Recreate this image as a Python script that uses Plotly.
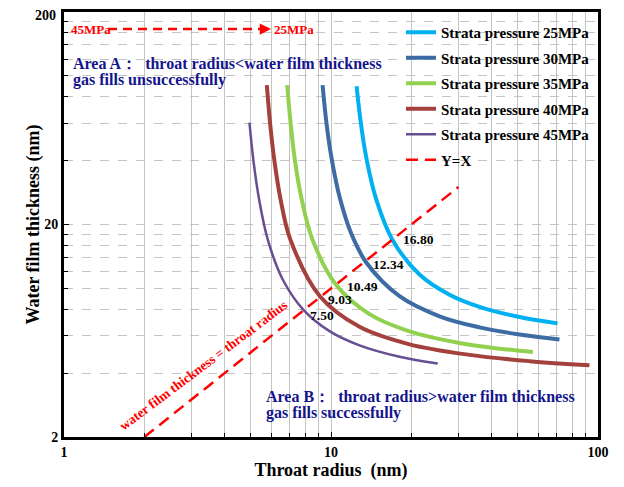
import math
import plotly.graph_objects as go

# ---------------- data ----------------
series_names = ["Strata pressure 25MPa", "Strata pressure 30MPa", "Strata pressure 35MPa",
                "Strata pressure 40MPa", "Strata pressure 45MPa"]

x_25 = [12.47, 12.94, 13.60, 14.78, 17.00, 21.45, 27.79, 35.99, 50.82, 70.53]
y_25 = [89.5, 59.8, 40.4, 26.2, 16.93, 11.64, 9.35, 8.20, 7.34, 6.85]

x_30 = [9.30, 9.62, 10.07, 10.83, 11.96, 13.60, 18.06, 25.49, 35.99, 50.82, 71.75]
y_30 = [90.5, 59.8, 40.4, 26.2, 17.88, 13.18, 9.20, 7.40, 6.56, 6.07, 5.75]

x_35 = [6.855, 7.06, 7.32, 7.77, 8.53, 10.46, 13.94, 19.68, 30.29, 42.77, 57.0]
y_35 = [90.5, 59.8, 40.4, 26.2, 16.93, 10.38, 7.57, 6.28, 5.54, 5.21, 5.02]

x_40 = [5.75, 5.915, 6.13, 6.475, 7.05, 9.12, 12.79, 19.68, 33.02, 55.4, 92.9]
y_40 = [90.5, 59.8, 40.4, 26.2, 16.93, 9.14, 6.60, 5.46, 4.87, 4.55, 4.35]

x_45 = [4.95, 5.117, 5.38, 5.80, 6.61, 7.90, 9.87, 12.79, 18.06, 25.1]
y_45 = [60.3, 40.4, 26.2, 16.93, 10.96, 7.91, 6.30, 5.40, 4.77, 4.43]

yx_x = [2, 30]
yx_y = [2, 30]

intersections = [16.80, 12.34, 10.49, 9.03, 7.50]
intersection_labels = ["16.80", "12.34", "10.49", "9.03", "7.50"]

x_tickvals = [1, 10, 100]
x_ticktext = ["1", "10", "100"]
x_minor = [2, 3, 4, 5, 6, 7, 8, 9, 20, 30, 40, 50, 60, 70, 80, 90]
y_tickvals = [2, 20, 200]
y_ticktext = ["2", "20", "200"]
y_minor = [4, 6, 8, 10, 12, 14, 16, 18, 40, 60, 80, 100, 120, 140, 160, 180]

# ---------------- styling ----------------
FONT = "Liberation Serif"
colors = ["#00B0F0", "#3D6BA4", "#92D050", "#A5413D", "#674E93"]
widths = [4, 4, 4, 4, 2.5]
NAVY = "#14148C"
RED = "#FF0000"

xs = [x_25, x_30, x_35, x_40, x_45]
ys = [y_25, y_30, y_35, y_40, y_45]

fig = go.Figure()
for i in range(5):
    fig.add_trace(go.Scatter(
        x=xs[i], y=ys[i], mode="lines", name=series_names[i],
        line=dict(color=colors[i], width=widths[i], shape="spline", smoothing=1.0),
        legendgroup=f"g{i}"))

fig.add_trace(go.Scatter(
    x=yx_x, y=yx_y, mode="lines", name="Y=X",
    line=dict(color=RED, width=2.5, dash="12px,7px"), legendgroup="g5"))

# intersection labels
shifts = [(10, 1), (16, 5), (8, -2), (7, -2), (10, 0)]
for v, t, (dx, dy) in zip(intersections, intersection_labels, shifts):
    fig.add_annotation(x=math.log10(v), y=math.log10(v), text=t, showarrow=False,
                       xanchor="left", yanchor="middle", xshift=dx, yshift=dy,
                       font=dict(family=FONT, size=13.5, color="black", weight="bold"))

# page has an 8px body margin: figure is drawn 8px right/down of the window origin
OFF = 8
W, H = 608, 479
# plot area in window pixels: x 64..598, y 12..437
PX0, PX1, PY0, PY1 = 64, 598, 12, 437
L, R, T, B = PX0 - OFF, W - (PX1 - OFF), PY0 - OFF, H - (PY1 - OFF)
pw, ph = PX1 - PX0, PY1 - PY0
def px(xp):
    return (xp - PX0) / pw
def py(yp):
    return (PY1 - yp) / ph

def text_line(xp, yp, s, color, size, anchor="left"):
    fig.add_annotation(xref="paper", yref="paper", x=px(xp), y=py(yp), text=s,
                       showarrow=False, xanchor=anchor, yanchor="middle",
                       font=dict(family=FONT, size=size, color=color, weight="bold"))

# top y tick label drawn as text slightly inside the page so it is not clipped
y_axis_labels = list(y_ticktext)
top_label = y_axis_labels[-1]
y_axis_labels[-1] = ""
text_line(58, 15, top_label, "black", 14, anchor="right")

# area texts
text_line(71, 63, "Area A：  throat radius&lt;water film thickness", NAVY, 16)
text_line(71, 80, "gas fills unsuccessfully", NAVY, 16)
text_line(264, 396, "Area B：  throat radius&gt;water film thickness", NAVY, 16)
text_line(264, 413, "gas fills successfully", NAVY, 16)

# pressure arrow
text_line(69, 29, "45MPa", RED, 13)
text_line(272, 29, "25MPa", RED, 13)
fig.add_shape(type="line", xref="paper", yref="paper", x0=px(108), x1=px(264),
              y0=py(29), y1=py(29), line=dict(color=RED, width=2.5, dash="9px,6px"))
fig.add_annotation(xref="paper", yref="paper", x=px(271), y=py(29), ax=-10, ay=0,
                   text="", showarrow=True, arrowhead=2, arrowsize=0.9, arrowwidth=2.5,
                   arrowcolor=RED)

# rotated text along Y=X
fig.add_annotation(xref="paper", yref="paper", x=px(203), y=py(365),
                   xanchor="center", yanchor="middle",
                   text="water film thickness = throat radius", showarrow=False,
                   textangle=-37, font=dict(family=FONT, size=13.5, color=RED, weight="bold"))

fig.update_layout(
    width=W, height=H, margin=dict(l=L, r=R, t=T, b=B, autoexpand=False),
    paper_bgcolor="white", plot_bgcolor="white",
    font=dict(family=FONT, color="black", weight="bold"),
    showlegend=True,
    legend=dict(x=px(401), y=py(16), xanchor="left", yanchor="top",
                bgcolor="rgba(0,0,0,0)", font=dict(family=FONT, size=15, color="black", weight="bold"),
                tracegroupgap=3, itemwidth=30, traceorder="grouped"),
)
fig.update_xaxes(
    type="log", range=[0, 2], tickvals=x_tickvals, ticktext=x_ticktext,
    tickfont=dict(family=FONT, size=14, weight="bold"), automargin=False,
    showgrid=True, gridcolor="#C4C4C4", gridwidth=1,
    minor=dict(tickvals=x_minor, showgrid=True, gridcolor="#C4C4C4", gridwidth=1,
               ticks="inside", ticklen=4, tickcolor="black"),
    ticks="inside", ticklen=5, tickcolor="black",
    showline=True, linewidth=3, linecolor="black", mirror=True, zeroline=False,
    title=dict(text="Throat radius  (nm)", font=dict(family=FONT, size=18, weight="bold"), standoff=4),
)
fig.update_yaxes(
    type="log", range=[math.log10(2), math.log10(200)], tickvals=y_tickvals,
    ticktext=y_axis_labels, automargin=False,
    tickfont=dict(family=FONT, size=14, weight="bold"),
    showgrid=True, gridcolor="#C4C4C4", gridwidth=1, griddash="dash",
    minor=dict(tickvals=y_minor, showgrid=True, gridcolor="#C4C4C4", gridwidth=1,
               griddash="dash", ticks="inside", ticklen=4, tickcolor="black"),
    ticks="inside", ticklen=5, tickcolor="black",
    showline=True, linewidth=3, linecolor="black", mirror=True, zeroline=False,
    title=dict(text="Water film thickness (nm)", font=dict(family=FONT, size=18, weight="bold"), standoff=0),
)

fig.write_html("out.html")
